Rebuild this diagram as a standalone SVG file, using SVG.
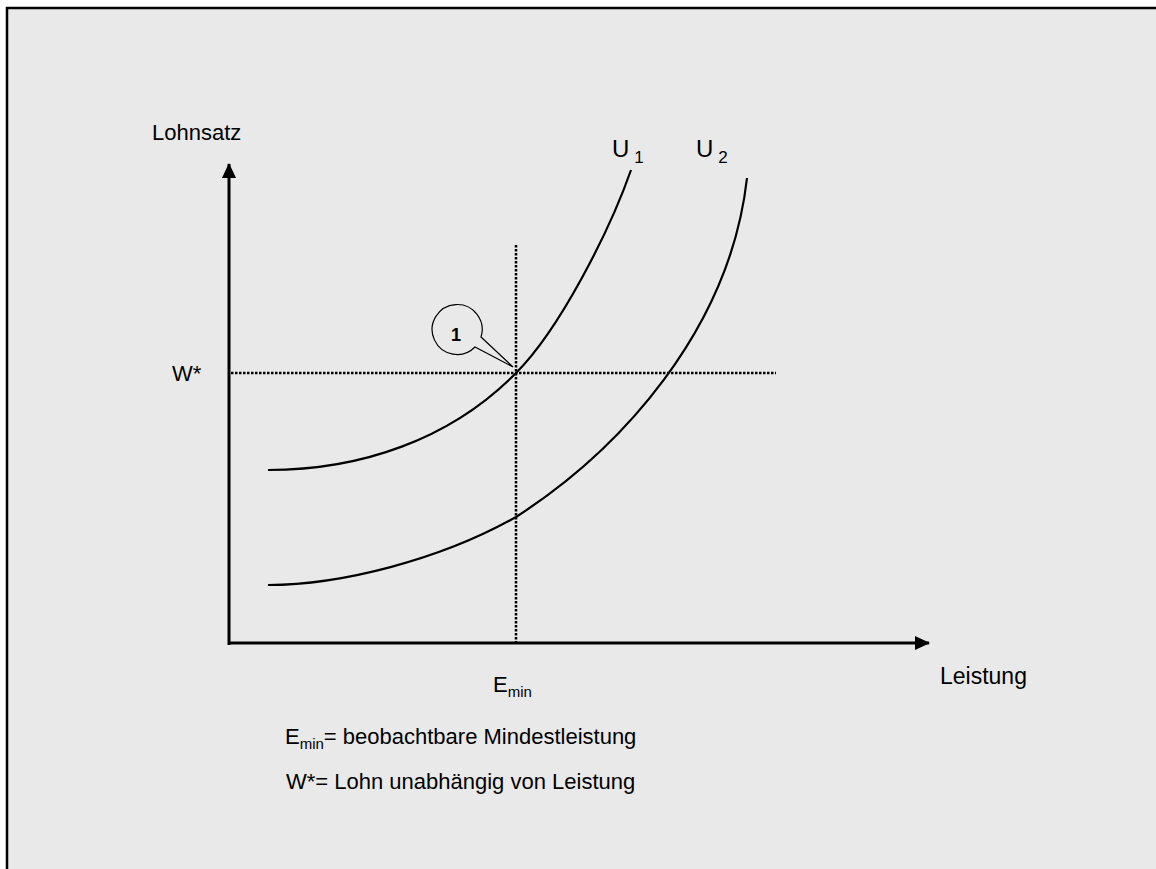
<svg xmlns="http://www.w3.org/2000/svg" width="1156" height="869" viewBox="0 0 1156 869">
<defs>
<style>
text{font-family:"Liberation Sans",Arial,sans-serif;font-size:22px;fill:#000}
.sub{font-size:15px}
.usub{font-size:17px}
.big{font-size:24px}
.axis{stroke:#000;stroke-width:3;fill:none}
.dot{stroke:#000;stroke-width:2.5;stroke-dasharray:2.5 1.5;fill:none}
.curve{stroke:#000;stroke-width:2.2;fill:none}
</style>
<marker id="ah" viewBox="0 0 15 14" refX="14" refY="7" markerWidth="15" markerHeight="14" markerUnits="userSpaceOnUse" orient="auto">
<path d="M0,0 L15,7 L0,14 Z" fill="#000"/>
</marker>
</defs>
<rect x="7" y="8" width="1160" height="880" fill="#e9e9e9" stroke="#000" stroke-width="2.5"/>
<g id="connectors">
<line class="axis" x1="229" y1="645" x2="229" y2="164" marker-end="url(#ah)"/>
<line class="axis" x1="228" y1="643" x2="929" y2="643" marker-end="url(#ah)"/>
<line class="dot" x1="516" y1="245" x2="516" y2="642"/>
<line class="dot" x1="231" y1="373" x2="776" y2="373"/>
<path id="U1" class="curve" d="M268,470 C360,470 450,440 516,373 C560,329 610,230 631,170"/>
<path id="U2" class="curve" d="M268,585 C340,585 440,560 516,517 C620,450 730,330 747,178"/>
</g>
<g id="callout">
<path d="M481,337 A25,25 0 1 0 475,347 L513,367 Z" fill="#e9e9e9" stroke="#000" stroke-width="1.2"/>
<text x="456" y="341" text-anchor="middle" font-weight="bold" style="font-size:18px">1</text>
</g>
<g id="labels">
<text x="152" y="140">Lohnsatz</text>
<text class="big" x="612" y="157">U<tspan class="usub" dx="5" dy="6">1</tspan></text>
<text class="big" x="696" y="157">U<tspan class="usub" dx="5" dy="6">2</tspan></text>
<text x="172" y="381">W*</text>
<text x="940" y="684" style="font-size:23px">Leistung</text>
<text x="493" y="692">E<tspan class="sub" dy="5">min</tspan></text>
<text x="285" y="744">E<tspan class="sub" dy="5">min</tspan><tspan dy="-5">= beobachtbare Mindestleistung</tspan></text>
<text x="286" y="789">W*= Lohn unabhängig von Leistung</text>
</g>
</svg>
